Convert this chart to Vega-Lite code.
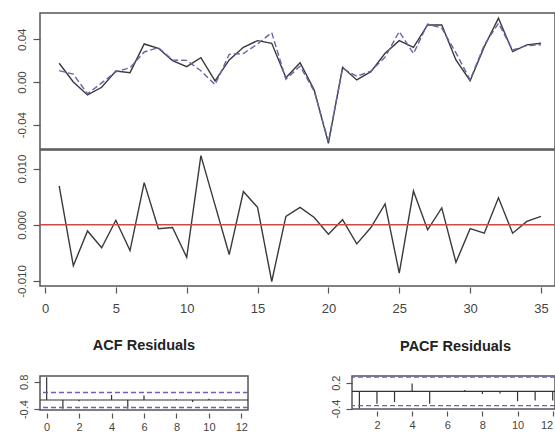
{
  "$schema": "https://vega.github.io/schema/vega-lite/v6.json",
  "background": "white",
  "autosize": {"type": "pad"},
  "padding": {"left": 15, "top": 12, "right": 0, "bottom": 0},
  "config": {
    "view": {"stroke": "#555", "strokeWidth": 1.5},
    "axis": {"labelFont": "Liberation Sans", "labelColor": "#444", "tickColor": "#555", "tickWidth": 1.2, "domain": false, "grid": false, "title": null, "labelOverlap": false},
    "title": {"font": "Liberation Sans", "fontSize": 14.5, "fontWeight": "bold", "color": "#222", "offset": 21, "baseline": "alphabetic", "anchor": "middle"}
  },
  "datasets": {
    "series": [
      {"t": 1, "actual": 0.0175, "fitted": 0.0106, "resid": 0.0069},
      {"t": 2, "actual": 0.0000, "fitted": 0.0073, "resid": -0.0073},
      {"t": 3, "actual": -0.0122, "fitted": -0.0111, "resid": -0.0011},
      {"t": 4, "actual": -0.0050, "fitted": -0.0009, "resid": -0.0041},
      {"t": 5, "actual": 0.0103, "fitted": 0.0095, "resid": 0.0008},
      {"t": 6, "actual": 0.0087, "fitted": 0.0133, "resid": -0.0046},
      {"t": 7, "actual": 0.0356, "fitted": 0.0281, "resid": 0.0075},
      {"t": 8, "actual": 0.0315, "fitted": 0.0322, "resid": -0.0007},
      {"t": 9, "actual": 0.0200, "fitted": 0.0205, "resid": -0.0005},
      {"t": 10, "actual": 0.0144, "fitted": 0.0202, "resid": -0.0058},
      {"t": 11, "actual": 0.0228, "fitted": 0.0105, "resid": 0.0123},
      {"t": 12, "actual": 0.0010, "fitted": -0.0025, "resid": 0.0035},
      {"t": 13, "actual": 0.0206, "fitted": 0.0259, "resid": -0.0053},
      {"t": 14, "actual": 0.0325, "fitted": 0.0266, "resid": 0.0059},
      {"t": 15, "actual": 0.0387, "fitted": 0.0356, "resid": 0.0031},
      {"t": 16, "actual": 0.0362, "fitted": 0.0463, "resid": -0.0101},
      {"t": 17, "actual": 0.0040, "fitted": 0.0025, "resid": 0.0015},
      {"t": 18, "actual": 0.0180, "fitted": 0.0149, "resid": 0.0031},
      {"t": 19, "actual": -0.0075, "fitted": -0.0088, "resid": 0.0013},
      {"t": 20, "actual": -0.0575, "fitted": -0.0558, "resid": -0.0017},
      {"t": 21, "actual": 0.0137, "fitted": 0.0128, "resid": 0.0009},
      {"t": 22, "actual": 0.0019, "fitted": 0.0053, "resid": -0.0034},
      {"t": 23, "actual": 0.0097, "fitted": 0.0102, "resid": -0.0005},
      {"t": 24, "actual": 0.0269, "fitted": 0.0232, "resid": 0.0037},
      {"t": 25, "actual": 0.0387, "fitted": 0.0473, "resid": -0.0086},
      {"t": 26, "actual": 0.0325, "fitted": 0.0265, "resid": 0.0060},
      {"t": 27, "actual": 0.0534, "fitted": 0.0543, "resid": -0.0009},
      {"t": 28, "actual": 0.0534, "fitted": 0.0504, "resid": 0.0030},
      {"t": 29, "actual": 0.0206, "fitted": 0.0273, "resid": -0.0067},
      {"t": 30, "actual": 0.0012, "fitted": 0.0019, "resid": -0.0007},
      {"t": 31, "actual": 0.0331, "fitted": 0.0346, "resid": -0.0015},
      {"t": 32, "actual": 0.0597, "fitted": 0.0549, "resid": 0.0048},
      {"t": 33, "actual": 0.0284, "fitted": 0.0299, "resid": -0.0015},
      {"t": 34, "actual": 0.0347, "fitted": 0.0341, "resid": 0.0006},
      {"t": 35, "actual": 0.0362, "fitted": 0.0347, "resid": 0.0015}
    ],
    "acf": [
      {"lag": 0, "acf": 1.0},
      {"lag": 1, "acf": -0.39},
      {"lag": 2, "acf": -0.06},
      {"lag": 3, "acf": 0.01},
      {"lag": 4, "acf": 0.22},
      {"lag": 5, "acf": -0.38},
      {"lag": 6, "acf": 0.2},
      {"lag": 7, "acf": 0.0},
      {"lag": 8, "acf": 0.03},
      {"lag": 9, "acf": -0.09},
      {"lag": 10, "acf": 0.05},
      {"lag": 11, "acf": -0.03},
      {"lag": 12, "acf": 0.0}
    ],
    "pacf": [
      {"lag": 1, "pacf": -0.40},
      {"lag": 2, "pacf": -0.29},
      {"lag": 3, "pacf": -0.25},
      {"lag": 4, "pacf": 0.18},
      {"lag": 5, "pacf": -0.29},
      {"lag": 6, "pacf": 0.0},
      {"lag": 7, "pacf": 0.03},
      {"lag": 8, "pacf": -0.06},
      {"lag": 9, "pacf": -0.05},
      {"lag": 10, "pacf": -0.23},
      {"lag": 11, "pacf": -0.21},
      {"lag": 12, "pacf": -0.21}
    ],
    "one": [{"k": 1}]
  },
  "spacing": 20,
  "vconcat": [
    {
      "spacing": -1.5,
      "vconcat": [
        {
          "width": 515,
          "height": 136,
          "data": {"name": "series"},
          "layer": [
            {
              "mark": {"type": "line", "color": "#3a3a3a", "strokeWidth": 1.4},
              "encoding": {
                "x": {"field": "t", "type": "quantitative", "scale": {"domain": [-0.353, 35.99], "nice": false, "zero": false}, "axis": null},
                "y": {"field": "actual", "type": "quantitative", "scale": {"domain": [-0.0628, 0.0646], "nice": false, "zero": false},
                  "axis": {"values": [-0.04, 0, 0.04], "labelOverlap": false, "labelExpr": "replace(format(datum.value, '.2f'), '\u2212', '-')", "labelAngle": 270, "labelAlign": "center", "labelBaseline": "alphabetic", "labelPadding": 8, "tickSize": 7, "labelFontSize": 11.5}}
              }
            },
            {
              "mark": {"type": "line", "color": "#6464aa", "strokeWidth": 1.4, "strokeDash": [6, 3]},
              "encoding": {
                "x": {"field": "t", "type": "quantitative"},
                "y": {"field": "fitted", "type": "quantitative"}
              }
            }
          ]
        },
        {
          "width": 515,
          "height": 136,
          "data": {"name": "series"},
          "layer": [
            {
              "mark": {"type": "line", "color": "#3a3a3a", "strokeWidth": 1.4},
              "encoding": {
                "x": {"field": "t", "type": "quantitative", "scale": {"domain": [-0.353, 35.99], "nice": false, "zero": false},
                  "axis": {"values": [0, 5, 10, 15, 20, 25, 30, 35], "labelOverlap": false, "format": "d", "labelAngle": 0, "tickSize": 6, "offset": 1, "labelPadding": 9, "labelFontSize": 13}},
                "y": {"field": "resid", "type": "quantitative", "scale": {"domain": [-0.0109, 0.0133], "nice": false, "zero": false},
                  "axis": {"values": [-0.01, 0, 0.01], "labelOverlap": false, "labelExpr": "replace(format(datum.value, '.3f'), '\u2212', '-')", "labelAngle": 270, "labelAlign": "center", "labelBaseline": "alphabetic", "labelPadding": 8, "tickSize": 7, "labelFontSize": 11.5}}
              }
            },
            {
              "data": {"name": "one"},
              "mark": {"type": "rule", "color": "#d04848", "strokeWidth": 1.3},
              "encoding": {"y": {"datum": 0}}
            }
          ]
        }
      ]
    },
    {
      "spacing": 79,
      "hconcat": [
        {
          "width": 208,
          "height": 34,
          "title": {"text": "ACF Residuals"},
          "data": {"name": "acf"},
          "layer": [
            {
              "mark": {"type": "rule", "color": "#333", "strokeWidth": 1.2},
              "encoding": {
                "x": {"field": "lag", "type": "quantitative", "scale": {"domain": [-0.41, 12.41], "nice": false, "zero": false},
                  "axis": {"values": [0, 2, 4, 6, 8, 10, 12], "labelOverlap": false, "format": "d", "labelAngle": 0, "tickSize": 5, "offset": 3, "labelPadding": 3, "labelFontSize": 11}},
                "y": {"field": "acf", "type": "quantitative", "scale": {"domain": [-0.44, 1.057], "nice": false, "zero": false},
                  "axis": {"values": [-0.4, 0.8], "labelOverlap": false, "labelExpr": "replace(format(datum.value, '.1f'), '\u2212', '-')", "labelAngle": 270, "labelAlign": "center", "labelBaseline": "alphabetic", "labelPadding": 7, "tickSize": 6, "labelFontSize": 11}},
                "y2": {"datum": 0}
              }
            },
            {
              "data": {"name": "one"},
              "mark": {"type": "rule", "color": "#333", "strokeWidth": 1.2},
              "encoding": {"y": {"datum": 0}}
            },
            {
              "data": {"name": "one"},
              "mark": {"type": "rule", "color": "#6464c0", "strokeWidth": 1.4, "strokeDash": [5, 3]},
              "encoding": {"y": {"datum": 0.331}}
            },
            {
              "data": {"name": "one"},
              "mark": {"type": "rule", "color": "#6464c0", "strokeWidth": 1.4, "strokeDash": [5, 3]},
              "encoding": {"y": {"datum": -0.331}}
            }
          ]
        },
        {
          "width": 203,
          "height": 33,
          "title": {"text": "PACF Residuals", "dx": 2},
          "data": {"name": "pacf"},
          "layer": [
            {
              "mark": {"type": "rule", "color": "#333", "strokeWidth": 1.2},
              "encoding": {
                "x": {"field": "lag", "type": "quantitative", "scale": {"domain": [0.58, 12.13], "nice": false, "zero": false},
                  "axis": {"values": [2, 4, 6, 8, 10, 12], "labelOverlap": false, "format": "d", "labelAngle": 0, "tickSize": 5, "offset": 2, "labelPadding": 3, "labelFontSize": 11, "labelFlush": 5}},
                "y": {"field": "pacf", "type": "quantitative", "scale": {"domain": [-0.41, 0.356], "nice": false, "zero": false},
                  "axis": {"values": [-0.4, 0.2], "labelOverlap": false, "labelExpr": "replace(format(datum.value, '.1f'), '\u2212', '-')", "labelAngle": 270, "labelAlign": "center", "labelBaseline": "alphabetic", "labelPadding": 7, "tickSize": 6, "labelFontSize": 11}},
                "y2": {"datum": 0}
              }
            },
            {
              "data": {"name": "one"},
              "mark": {"type": "rule", "color": "#333", "strokeWidth": 1.2},
              "encoding": {"y": {"datum": 0}}
            },
            {
              "data": {"name": "one"},
              "mark": {"type": "rule", "color": "#6464c0", "strokeWidth": 1.4, "strokeDash": [5, 3]},
              "encoding": {"y": {"datum": 0.331}}
            },
            {
              "data": {"name": "one"},
              "mark": {"type": "rule", "color": "#6464c0", "strokeWidth": 1.4, "strokeDash": [5, 3]},
              "encoding": {"y": {"datum": -0.331}}
            }
          ]
        }
      ]
    }
  ]
}
